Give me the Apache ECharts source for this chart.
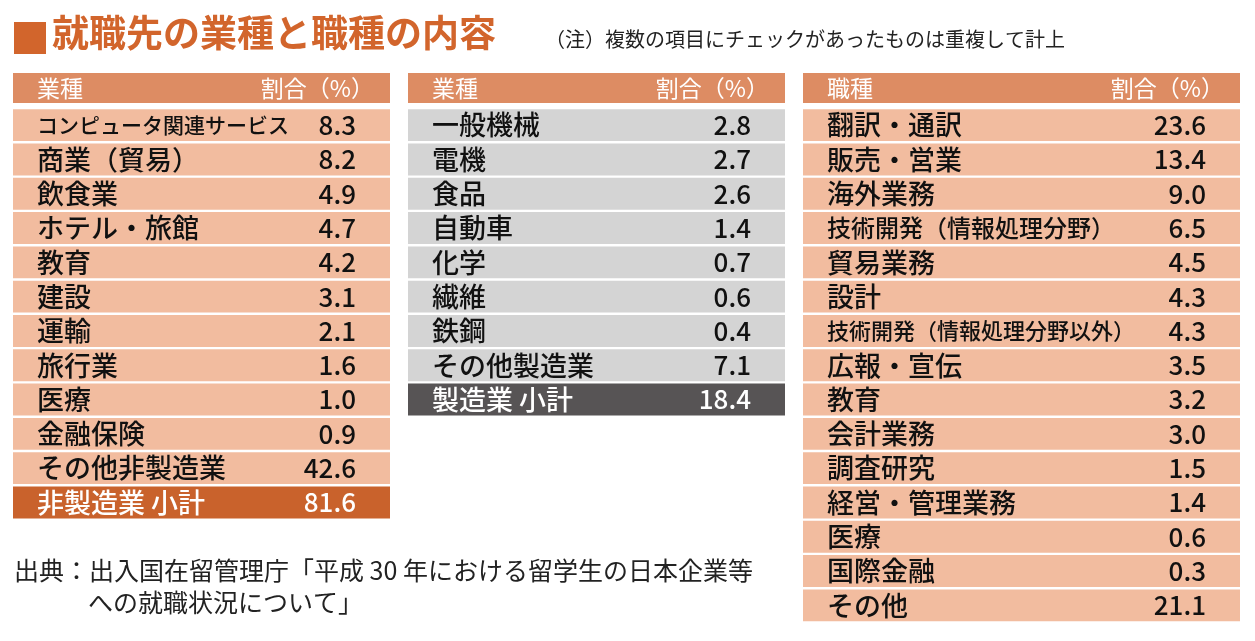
<!DOCTYPE html>
<html><head><meta charset="utf-8">
<script src="https://cdn.jsdelivr.net/npm/echarts@6/dist/echarts.min.js"></script>
<style>html,body{margin:0;background:#fff}#main{width:1255px;height:641px}</style>
</head><body><div id="main"></div>
<script>
var myChart = echarts.init(document.getElementById('main'));
var FONT = '"Noto Sans CJK JP", "Noto Sans", sans-serif';

// 業種（非製造業）
var nonMfgNames = ['コンピュータ関連サービス', '商業（貿易）', '飲食業', 'ホテル・旅館', '教育', '建設', '運輸', '旅行業', '医療', '金融保険', 'その他非製造業', '非製造業 小計'];
var nonMfgValues = ['8.3', '8.2', '4.9', '4.7', '4.2', '3.1', '2.1', '1.6', '1.0', '0.9', '42.6', '81.6'];
// 業種（製造業）
var mfgNames = ['一般機械', '電機', '食品', '自動車', '化学', '繊維', '鉄鋼', 'その他製造業', '製造業 小計'];
var mfgValues = ['2.8', '2.7', '2.6', '1.4', '0.7', '0.6', '0.4', '7.1', '18.4'];
// 職種
var jobNames = ['翻訳・通訳', '販売・営業', '海外業務', '技術開発（情報処理分野）', '貿易業務', '設計', '技術開発（情報処理分野以外）', '広報・宣伝', '教育', '会計業務', '調査研究', '経営・管理業務', '医療', '国際金融', 'その他'];
var jobValues = ['23.6', '13.4', '9.0', '6.5', '4.5', '4.3', '4.3', '3.5', '3.2', '3.0', '1.5', '1.4', '0.6', '0.3', '21.1'];
var headers = [['業種', '割合（%）'], ['業種', '割合（%）'], ['職種', '割合（%）']];

var ROW = 34.3;
var tables = [
  {left: 13, width: 377, names: nonMfgNames, values: nonMfgValues, fill: '#f2bc9f', last: '#c9622c', lastText: '#fff'},
  {left: 408, width: 377, names: mfgNames, values: mfgValues, fill: '#d4d4d4', last: '#575455', lastText: '#fff'},
  {left: 803, width: 437, names: jobNames, values: jobValues, fill: '#f2bc9f', last: '#f2bc9f', lastText: '#111'}
];

function nameSize(name, k) {
  if (name.length >= 14) return 22;
  if (name.length >= 12) return k === 0 ? 21 : 24;
  return 27;
}

var grid = [], xAxis = [], yAxis = [], series = [];
tables.forEach(function (t, k) {
  grid.push({left: t.left, width: t.width, top: 73, height: 30});
  grid.push({left: t.left, width: t.width, top: 108, height: ROW * t.names.length});
  [0, 1].forEach(function (j) {
    var g = k * 2 + j;
    xAxis.push({type: 'value', gridIndex: g, min: 0, max: 1, show: false});
    yAxis.push({type: 'category', gridIndex: g, inverse: true, show: false,
      data: j === 0 ? [headers[k][0]] : t.names});
  });
  // header row
  series.push({
    type: 'custom', xAxisIndex: k * 2, yAxisIndex: k * 2,
    data: [[0, 0]],
    renderItem: function (params, api) {
      var p = api.coord([0, 0]);
      var s = api.size([1, 1]);
      return {type: 'group', children: [
        {type: 'rect', shape: {x: p[0], y: p[1] - s[1] / 2, width: s[0], height: s[1]}, style: {fill: '#dd8c63'}},
        {type: 'text', style: {text: headers[k][0], x: p[0] + 24, y: p[1], verticalAlign: 'middle', fill: '#fff', font: '23px ' + FONT}},
        {type: 'text', style: {text: headers[k][1], x: p[0] + s[0] - 16, y: p[1], align: 'right', verticalAlign: 'middle', fill: '#fff', font: '23px ' + FONT}}
      ]};
    }
  });
  // body rows
  series.push({
    type: 'custom', xAxisIndex: k * 2 + 1, yAxisIndex: k * 2 + 1,
    data: t.names.map(function (n, i) { return [0, i]; }),
    renderItem: function (params, api) {
      var i = params.dataIndex;
      var p = api.coord([0, api.value(1)]);
      var s = api.size([1, 1]);
      var isLast = i === t.names.length - 1;
      var fill = isLast ? t.last : t.fill;
      var tc = isLast ? t.lastText : '#111';
      var name = t.names[i];
      return {type: 'group', children: [
        {type: 'rect', shape: {x: p[0], y: p[1] - s[1] / 2 + 1.2, width: s[0], height: s[1] - 2.4}, style: {fill: fill}},
        {type: 'text', style: {text: name, x: p[0] + 24, y: p[1], verticalAlign: 'middle', fill: tc, font: '500 ' + nameSize(name, k) + 'px ' + FONT}},
        {type: 'text', style: {text: t.values[i], x: p[0] + s[0] - 34, y: p[1], align: 'right', verticalAlign: 'middle', fill: tc, font: '500 26px ' + FONT}}
      ]};
    }
  });
});

var option = {
  animation: false,
  backgroundColor: '#fff',
  grid: grid, xAxis: xAxis, yAxis: yAxis, series: series,
  graphic: [
    {type: 'rect', left: 14, top: 22, shape: {width: 32, height: 32}, style: {fill: '#d2652c'}},
    {type: 'text', left: 52, top: 14, style: {text: '就職先の業種と職種の内容', fill: '#d2652c', font: 'bold 37px ' + FONT}},
    {type: 'text', left: 545, top: 29, style: {text: '（注）複数の項目にチェックがあったものは重複して計上', fill: '#222', font: '20px ' + FONT}},
    {type: 'text', left: 14, top: 558, style: {text: '出典：出入国在留管理庁「平成 30 年における留学生の日本企業等', fill: '#222', font: '25px ' + FONT}},
    {type: 'text', left: 88, top: 590, style: {text: 'への就職状況について」', fill: '#222', font: '25px ' + FONT}}
  ]
};
myChart.setOption(option);
</script></body></html>
